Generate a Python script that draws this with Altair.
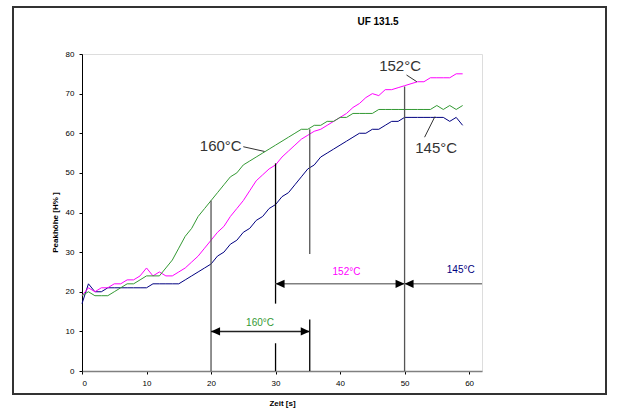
import altair as alt
import pandas as pd

FONT = "Liberation Sans, Arial, sans-serif"

# ---------------- data ----------------
time_s = list(range(60))
peak_145 = [17, 22, 20, 20, 21, 21, 21, 21, 21, 21,
            21, 22, 22, 22, 22, 22, 23, 24, 25, 26,
            27, 29, 30, 32, 33, 35, 36, 38, 39, 41,
            42, 44, 45, 47, 49, 51, 52, 54, 55, 56,
            57, 58, 59, 60, 60, 61, 61, 62, 63, 63,
            64, 64, 64, 64, 64, 64, 64, 63, 64, 62]
peak_152 = [19, 21, 20, 21, 21, 22, 22, 23, 23, 24,
            26, 24, 25, 24, 24, 25, 26, 27.5, 29, 31,
            33, 35, 36.5, 39, 41, 43, 45.5, 48, 49.5, 51,
            52, 54, 55.5, 57, 58.5, 59.5, 60.5, 61, 62, 63,
            64, 65, 66.5, 67.5, 69, 70, 69.5, 71, 71, 71.5,
            72, 72.5, 73, 73, 74, 74, 74, 74, 75, 75]
peak_160 = [19, 20, 19, 19, 19, 20, 21, 22, 22, 23,
            24, 24, 24, 26, 28, 31, 34, 36, 39, 41,
            43, 45, 47, 49, 50, 52, 53, 54, 55, 56,
            57, 58, 59, 60, 61, 61, 62, 62, 63, 63,
            64, 64, 65, 65, 65, 65, 66, 66, 66, 66,
            66, 66, 66, 66, 66, 67, 66, 67, 66, 67]
series_names = ["145°C", "152°C", "160°C"]
series_colors = ["#000080", "#FF00FF", "#339933"]

chart_title = "UF 131.5"
x_ticks = [0, 10, 20, 30, 40, 50, 60]
y_ticks = [0, 10, 20, 30, 40, 50, 60, 70, 80]

# vertical guide lines
vline_x = [20, 30, 30, 35.3, 35.3, 50]
vline_y0 = [0, 0, 17, 0, 29.5, 0]
vline_y1 = [43, 7, 52.4, 13, 61, 71.8]
vline_col = ["#555555", "#000000", "#000000", "#000000", "#555555", "#555555"]

# horizontal span arrows
span_x0 = [20, 30, 50]
span_x1 = [35.3, 50, 62]
span_y = [10, 22, 22]
span_col = ["#222222", "#808080", "#808080"]
span_label = ["160°C", "152°C", "145°C"]
span_label_x = [27.6, 41.0, 58.7]
span_label_y = [12.2, 25.0, 25.5]
span_label_col = ["#339933", "#FF00FF", "#000080"]

# arrow heads (tip positions)
head_x = [20, 35.3, 30, 50, 50]
head_y = [10, 10, 22, 22, 22]
head_dir = ["left", "right", "left", "right", "left"]

# curve labels with leader lines
curve_label = ["152°C", "160°C", "145°C"]
curve_label_x = [49.3, 21.5, 54.9]
curve_label_y = [76.9, 56.9, 56.4]
leader_x0 = [50.3, 25.0, 53.1]
leader_y0 = [74.7, 56.6, 59.0]
leader_x1 = [51.9, 28.3, 54.7]
leader_y1 = [73.0, 55.4, 64.2]

# ---------------- tables ----------------
rows = []
for name, vals in zip(series_names, [peak_145, peak_152, peak_160]):
    for t, v in zip(time_s, vals):
        rows.append({"t": t, "v": v, "s": name})
curves = pd.DataFrame(rows)

vlines = pd.DataFrame({"x": vline_x, "y0": vline_y0, "y1": vline_y1, "c": vline_col})
spans = pd.DataFrame({"x0": span_x0, "x1": span_x1, "y": span_y, "c": span_col})
span_txt = pd.DataFrame({"x": span_label_x, "y": span_label_y, "t": span_label, "c": span_label_col})
LEFT = "M0,0L1,-0.45L1,0.45Z"
RIGHT = "M0,0L-1,-0.45L-1,0.45Z"
heads = pd.DataFrame({"x": head_x, "y": head_y,
                      "shape": [LEFT if d == "left" else RIGHT for d in head_dir]})
ctext = pd.DataFrame({"x": curve_label_x, "y": curve_label_y, "t": curve_label})
leaders = pd.DataFrame({"x0": leader_x0, "y0": leader_y0, "x1": leader_x1, "y1": leader_y1})

# ---------------- scales / axes ----------------
xs = alt.Scale(domain=[0, 62], nice=False, zero=False)
ys = alt.Scale(domain=[0, 80], nice=False, zero=False)
x_axis = alt.Axis(values=x_ticks, title="Zeit [s]", grid=False, domainColor="#808080",
                  domainWidth=1.5, tickColor="#000000", tickSize=3, labelFontSize=8,
                  labelPadding=5, labelFont=FONT, labelColor="#000000",
                  titleFont=FONT, titleFontSize=8, titleFontWeight="bold",
                  titleColor="#000000", titleY=28, titleBaseline="top")
y_axis = alt.Axis(values=y_ticks, title="Peakhöhe [H% ]", grid=False, domainColor="#000000",
                  domainWidth=1, tickColor="#000000", tickSize=3, labelFontSize=8,
                  labelPadding=5, labelFont=FONT, labelColor="#000000",
                  titleFont=FONT, titleFontSize=8, titleFontWeight="bold",
                  titleColor="#000000", titleX=-27, titleY=168, titleAngle=270,
                  titleBaseline="middle", titleAlign="center")


def X(f):
    return alt.X(f, type="quantitative", scale=xs, axis=x_axis)


def Y(f):
    return alt.Y(f, type="quantitative", scale=ys, axis=y_axis)


border = alt.Chart(pd.DataFrame({"a": [0]})).mark_rect(
    fillOpacity=0, stroke="#333333", strokeWidth=2
).encode(x=alt.value(-69), x2=alt.value(524), y=alt.value(-47), y2=alt.value(340))

title_mark = alt.Chart(pd.DataFrame({"t": [chart_title]})).mark_text(
    fontSize=10, fontWeight="bold", font=FONT, color="#000000", align="center", baseline="middle"
).encode(x=alt.value(296), y=alt.value(-32), text="t:N")

lines = alt.Chart(curves).mark_line(strokeWidth=1, interpolate="linear").encode(
    x=X("t"), y=Y("v"),
    color=alt.Color("s:N", scale=alt.Scale(domain=series_names, range=series_colors), legend=None),
    detail="s:N",
)

vrules = alt.Chart(vlines).mark_rule(strokeWidth=1.3).encode(
    x=X("x"), y=Y("y0"), y2="y1", color=alt.Color("c:N", scale=None)
)

hrules = alt.Chart(spans).mark_rule(strokeWidth=1.5).encode(
    x=X("x0"), x2="x1", y=Y("y"), color=alt.Color("c:N", scale=None)
)

arrow_heads = alt.Chart(heads).mark_point(filled=True, color="#000000", size=324, opacity=1).encode(
    x=X("x"), y=Y("y"), shape=alt.Shape("shape:N", scale=None)
)

span_labels = alt.Chart(span_txt).mark_text(fontSize=10, font=FONT, baseline="middle", align="center").encode(
    x=X("x"), y=Y("y"), text="t:N", color=alt.Color("c:N", scale=None)
)

leader_lines = alt.Chart(leaders).mark_rule(strokeWidth=1, color="#333333").encode(
    x=X("x0"), y=Y("y0"), x2="x1", y2="y1"
)

curve_labels = alt.Chart(ctext).mark_text(fontSize=15, font=FONT, baseline="middle",
                                          align="center", color="#333333").encode(
    x=X("x"), y=Y("y"), text="t:N"
)

chart = alt.layer(
    border, title_mark, lines, vrules, hrules, arrow_heads, span_labels, leader_lines, curve_labels
).properties(
    width=400, height=317,
    autosize=alt.AutoSizeParams(type="none"),
    padding={"left": 82, "top": 54, "right": 138, "bottom": 46},
).configure_view(stroke=None).configure(background="#ffffff")

chart.save("out.html", embed_options={"renderer": "svg", "actions": False})
